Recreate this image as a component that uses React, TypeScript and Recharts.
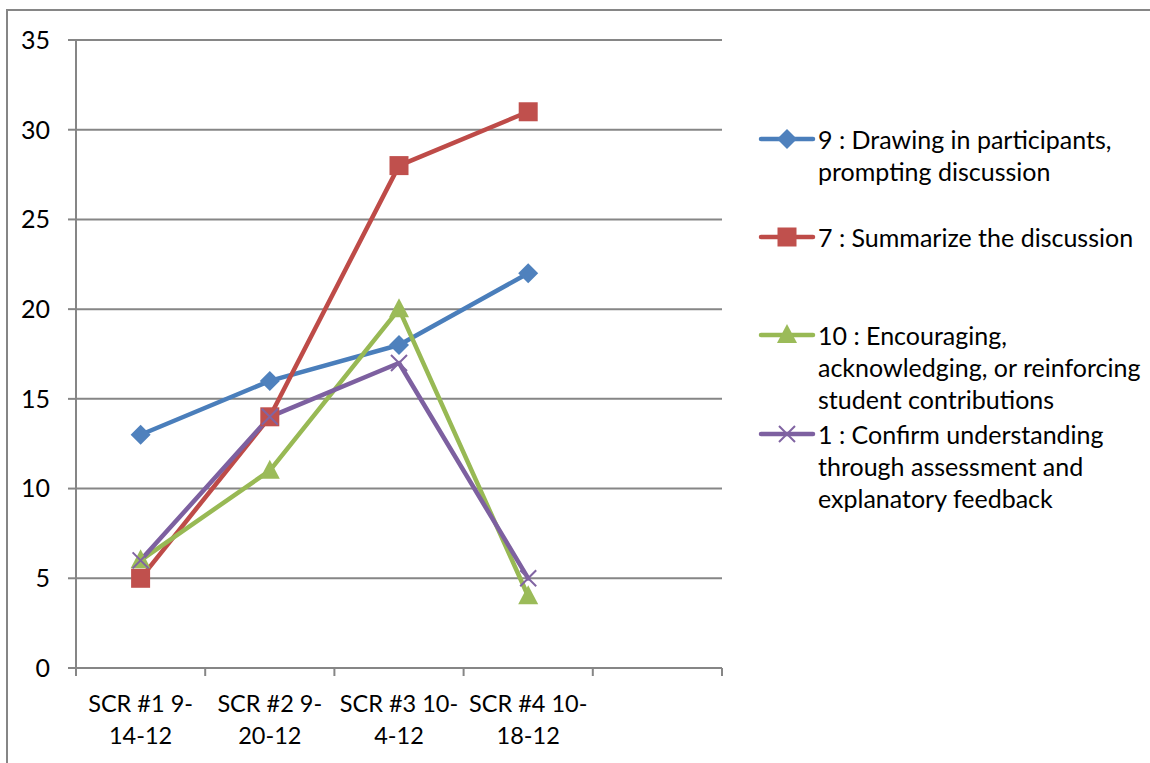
import React from 'react';
import { LineChart, Line, XAxis, YAxis, CartesianGrid, Legend } from 'recharts';

// ---- data ----
const categories = ['SCR #1 9-14-12', 'SCR #2 9-20-12', 'SCR #3 10-4-12', 'SCR #4 10-18-12', ''];
const tickLabelLines = [
  ['SCR #1 9-', '14-12'],
  ['SCR #2 9-', '20-12'],
  ['SCR #3 10-', '4-12'],
  ['SCR #4 10-', '18-12'],
  [],
];
const drawingIn = [13, 16, 18, 22, null];
const summarize = [5, 14, 28, 31, null];
const encouraging = [6, 11, 20, 4, null];
const confirmUnderstanding = [6, 14, 17, 5, null];
const seriesNames = [
  '9 : Drawing in participants, prompting discussion',
  '7 : Summarize the discussion',
  '10 : Encouraging, acknowledging, or reinforcing student contributions',
  '1 : Confirm understanding through assessment and explanatory feedback',
];
const legendLines = [
  ['9 : Drawing in participants,', 'prompting discussion'],
  ['7 : Summarize the discussion'],
  ['10 : Encouraging,', 'acknowledging, or reinforcing', 'student contributions'],
  ['1 : Confirm understanding', 'through assessment and', 'explanatory feedback'],
];
const yTicks = [0, 5, 10, 15, 20, 25, 30, 35];

// ---- layout / style ----
const W = 1150;
const H = 763;
const MARGIN = { top: 40, right: 428, bottom: 0, left: 0 };
const Y_AXIS_W = 76;
const X_AXIS_H = 95;
const PLOT_W = W - MARGIN.left - Y_AXIS_W - MARGIN.right;
const BAND = PLOT_W / categories.length;
const FONT = 'Lato, "Open Sans", sans-serif';
const FS = 25;
const X_FS = 23.5;
const GRID = '#868686';

const seriesStyle = [
  { key: 's9', color: '#4A7EBB', fill: '#4F81BD', marker: 'diamond' },
  { key: 's7', color: '#BE4B48', fill: '#C0504D', marker: 'square' },
  { key: 's10', color: '#98B954', fill: '#9BBB59', marker: 'triangle' },
  { key: 's1', color: '#7D60A0', fill: '#8064A2', marker: 'x' },
];

const data = categories.map((c, i) => ({
  cat: c,
  s9: drawingIn[i],
  s7: summarize[i],
  s10: encouraging[i],
  s1: confirmUnderstanding[i],
}));

function Marker({ kind, cx, cy, color }: { kind: string; cx: number; cy: number; color: string }) {
  switch (kind) {
    case 'diamond':
      return <path d={`M${cx},${cy - 10}L${cx + 10},${cy}L${cx},${cy + 10}L${cx - 10},${cy}Z`} fill={color} />;
    case 'square':
      return <rect x={cx - 9.5} y={cy - 9.5} width={19} height={19} fill={color} />;
    case 'triangle':
      return <path d={`M${cx},${cy - 11}L${cx + 10},${cy + 8}L${cx - 10},${cy + 8}Z`} fill={color} />;
    case 'x':
      return (
        <path
          d={`M${cx - 8},${cy - 8}L${cx + 8},${cy + 8}M${cx + 8},${cy - 8}L${cx - 8},${cy + 8}`}
          stroke={color}
          strokeWidth={2}
          fill="none"
        />
      );
    default:
      return null;
  }
}

const makeDot = (kind: string, color: string) => (props: any) => {
  const { cx, cy, value, index } = props;
  if (value == null || cx == null || cy == null || isNaN(cy)) return <g key={`d-${kind}-${index}`} />;
  return (
    <g key={`d-${kind}-${index}`}>
      <Marker kind={kind} cx={cx} cy={cy} color={color} />
    </g>
  );
};

function XTick(props: any) {
  const { x, y, index } = props;
  const lines = tickLabelLines[index] || [];
  return (
    <g>
      <line x1={x - BAND / 2} x2={x - BAND / 2} y1={y} y2={y + 8} stroke={GRID} strokeWidth={2} />
      {index === categories.length - 1 && (
        <line x1={x + BAND / 2} x2={x + BAND / 2} y1={y} y2={y + 8} stroke={GRID} strokeWidth={2} />
      )}
      {lines.map((ln: string, i: number) => (
        <text
          key={i}
          x={x}
          y={y + 35 + i * 32}
          textAnchor="middle"
          dominantBaseline="central"
          fontFamily={FONT}
          fontSize={X_FS}
          fill="#000"
        >
          {ln}
        </text>
      ))}
    </g>
  );
}

const LEGEND_LEFT = 740;
const LEGEND_TOP = 100;
const legendFirstLine = [39, 137, 235, 334];
const LINE_H = 32;

function renderLegend() {
  return (
    <div style={{ position: 'relative', width: 410, height: 420, fontFamily: FONT, fontSize: FS, color: '#000' }}>
      {seriesStyle.map((s, i) => (
        <div key={s.key} title={seriesNames[i]}>
          <svg
            width={60}
            height={26}
            style={{ position: 'absolute', left: 17, top: legendFirstLine[i] - 13, overflow: 'visible' }}
          >
            <line x1={4} x2={56} y1={13} y2={13} stroke={s.color} strokeWidth={4.5} strokeLinecap="round" />
            <Marker kind={s.marker} cx={30} cy={13} color={s.fill} />
          </svg>
          {legendLines[i].map((ln, j) => (
            <div
              key={j}
              style={{
                position: 'absolute',
                left: 78,
                top: legendFirstLine[i] - LINE_H / 2 + j * LINE_H,
                height: LINE_H,
                lineHeight: `${LINE_H}px`,
                whiteSpace: 'nowrap',
              }}
            >
              {ln}
            </div>
          ))}
        </div>
      ))}
    </div>
  );
}

export default function App() {
  return (
    <div style={{ position: 'absolute', left: 0, top: 0, width: W, height: H, overflow: 'hidden', background: '#fff' }}>
      <div
        style={{
          position: 'absolute',
          left: 6,
          top: 9,
          width: W + 100,
          height: H + 100,
          borderLeft: `2px solid ${GRID}`,
          borderTop: `2px solid ${GRID}`,
        }}
      />
      <div style={{ position: 'absolute', left: 0, top: 0 }}>
        <LineChart width={W} height={H} data={data} margin={MARGIN}>
          <CartesianGrid vertical={false} stroke={GRID} strokeWidth={2} />
          <XAxis
            dataKey="cat"
            height={X_AXIS_H}
            interval={0}
            padding={{ left: BAND / 2, right: BAND / 2 }}
            tickSize={0}
            tickMargin={0}
            tickLine={false}
            axisLine={{ stroke: GRID, strokeWidth: 2 }}
            tick={<XTick />}
          />
          <YAxis
            width={Y_AXIS_W}
            domain={[0, 35]}
            ticks={yTicks}
            interval={0}
            tickSize={8}
            tickMargin={18}
            tickLine={{ stroke: GRID, strokeWidth: 2 }}
            axisLine={{ stroke: GRID, strokeWidth: 2 }}
            tick={{ fill: '#000', fontSize: FS, fontFamily: FONT }}
          />
          <Legend
            layout="vertical"
            align="center"
            verticalAlign="middle"
            content={renderLegend}
            wrapperStyle={{ left: LEGEND_LEFT, top: LEGEND_TOP, width: 410, height: 420 }}
          />
          {seriesStyle.map((s, i) => (
            <Line
              key={s.key}
              type="linear"
              dataKey={s.key}
              name={seriesNames[i]}
              stroke={s.color}
              strokeWidth={4.5}
              strokeLinejoin="round"
              strokeLinecap="round"
              dot={makeDot(s.marker, s.fill)}
              activeDot={false}
              isAnimationActive={false}
            />
          ))}
        </LineChart>
      </div>
    </div>
  );
}
